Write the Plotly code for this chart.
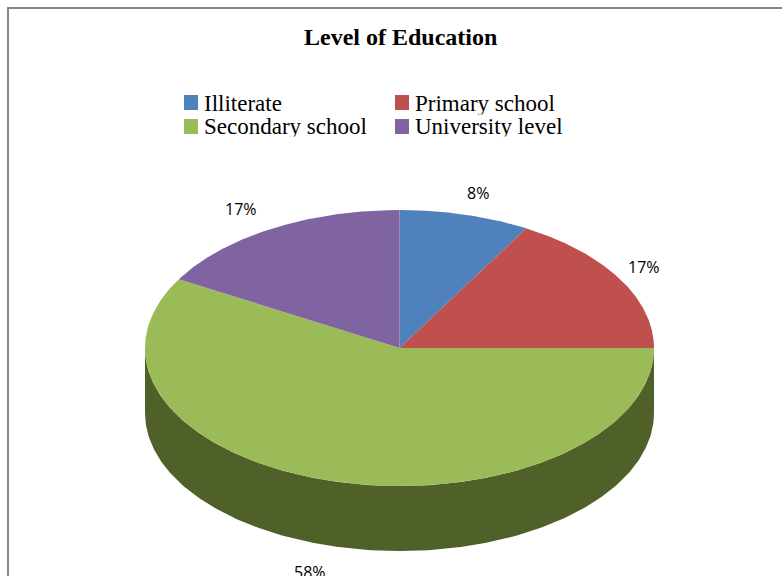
import numpy as np
import plotly.graph_objects as go

categories = ["Illiterate", "Primary school", "Secondary school", "University level"]
values = [8.3, 16.7, 58.3, 16.7]
colors = ["#4F81BD", "#C0504D", "#9BBB59", "#8064A2"]
labels = ["8%", "17%", "58%", "17%"]
title = "Level of Education"

CX, CY, RX, RY, DEPTH = 399.5, 348, 254.5, 138, 65
W, H = 782, 576

def py(y):
    return H - np.asarray(y, dtype=float)

fig = go.Figure()
fracs = np.array(values) / sum(values)
edges = np.concatenate([[0], np.cumsum(fracs)]) * 2 * np.pi

# side wall (front half only is visible)
t = np.linspace(np.pi / 2, 3 * np.pi / 2, 240)
sx = CX + RX * np.sin(t)
sy = CY - RY * np.cos(t)
wx = np.concatenate([sx, sx[::-1], sx[:1]])
wy = np.concatenate([sy, sy[::-1] + DEPTH, sy[:1]])
fig.add_trace(go.Scatter(x=wx, y=py(wy), fill="toself", mode="lines",
                         line=dict(color="#4F6128", width=0), fillcolor="#4F6128",
                         hoverinfo="skip", showlegend=False))

for c, col, a, b in zip(categories, colors, edges[:-1], edges[1:]):
    t = np.linspace(a, b, 240)
    x = np.concatenate([[CX], CX + RX * np.sin(t), [CX]])
    y = np.concatenate([[CY], CY - RY * np.cos(t), [CY]])
    fig.add_trace(go.Scatter(x=x, y=py(y), fill="toself", mode="lines", name=c,
                             line=dict(color=col, width=0), fillcolor=col, showlegend=False))

# percentage labels
label_pos = [(478, 193), (644, 267), (310, 572), (241, 209)]
for txt, (lx, ly) in zip(labels, label_pos):
    fig.add_annotation(x=lx, y=float(py(ly)), text=txt, showarrow=False,
                       font=dict(family="Open Sans, Liberation Sans, Arial", size=16, color="#000000"))

# legend
SERIF = "Liberation Serif, Times New Roman, serif"
swatch_pos = [(184, 95), (395, 95), (184, 119), (395, 119)]
text_pos = [(204, 105), (415, 105), (204, 128.5), (415, 128.5)]
for c, col, (sx0, sy0), (tx, ty) in zip(categories, colors, swatch_pos, text_pos):
    fig.add_shape(type="rect", x0=sx0, x1=sx0 + 14, y0=float(py(sy0)), y1=float(py(sy0 + 15)),
                  fillcolor=col, line_width=0)
    fig.add_trace(go.Scatter(x=[tx], y=[float(py(ty))], mode="text", text=[c],
                             textposition="middle right", hoverinfo="skip", showlegend=False,
                             textfont=dict(family=SERIF, size=23, color="#000000")))

# the reference clips the descenders of the legend rows
fig.add_shape(type="rect", x0=203, x1=570, y0=float(py(136.5)), y1=float(py(144)),
              fillcolor="white", line_width=0, layer="above")
fig.add_shape(type="rect", x0=415, x1=570, y0=float(py(114.5)), y1=float(py(116.5)),
              fillcolor="white", line_width=0, layer="above")

fig.add_annotation(x=400, y=float(py(37)), text="<b>" + title + "</b>", showarrow=False,
                   font=dict(family=SERIF, size=24, color="#000000"))

# outer frame (left and top edges are visible in the crop)
fig.add_shape(type="rect", x0=8, x1=W + 20, y0=float(py(H + 20)), y1=float(py(8)),
              line=dict(color="#868686", width=2), fillcolor="rgba(0,0,0,0)")

fig.update_layout(width=W, height=H, margin=dict(l=0, r=0, t=0, b=0),
                  paper_bgcolor="white", plot_bgcolor="white", showlegend=False,
                  xaxis=dict(range=[0, W], visible=False, fixedrange=True),
                  yaxis=dict(range=[0, H], visible=False, fixedrange=True))
fig.write_html("out.html", config={"displayModeBar": False},
               post_script="document.body.style.margin='0';")
